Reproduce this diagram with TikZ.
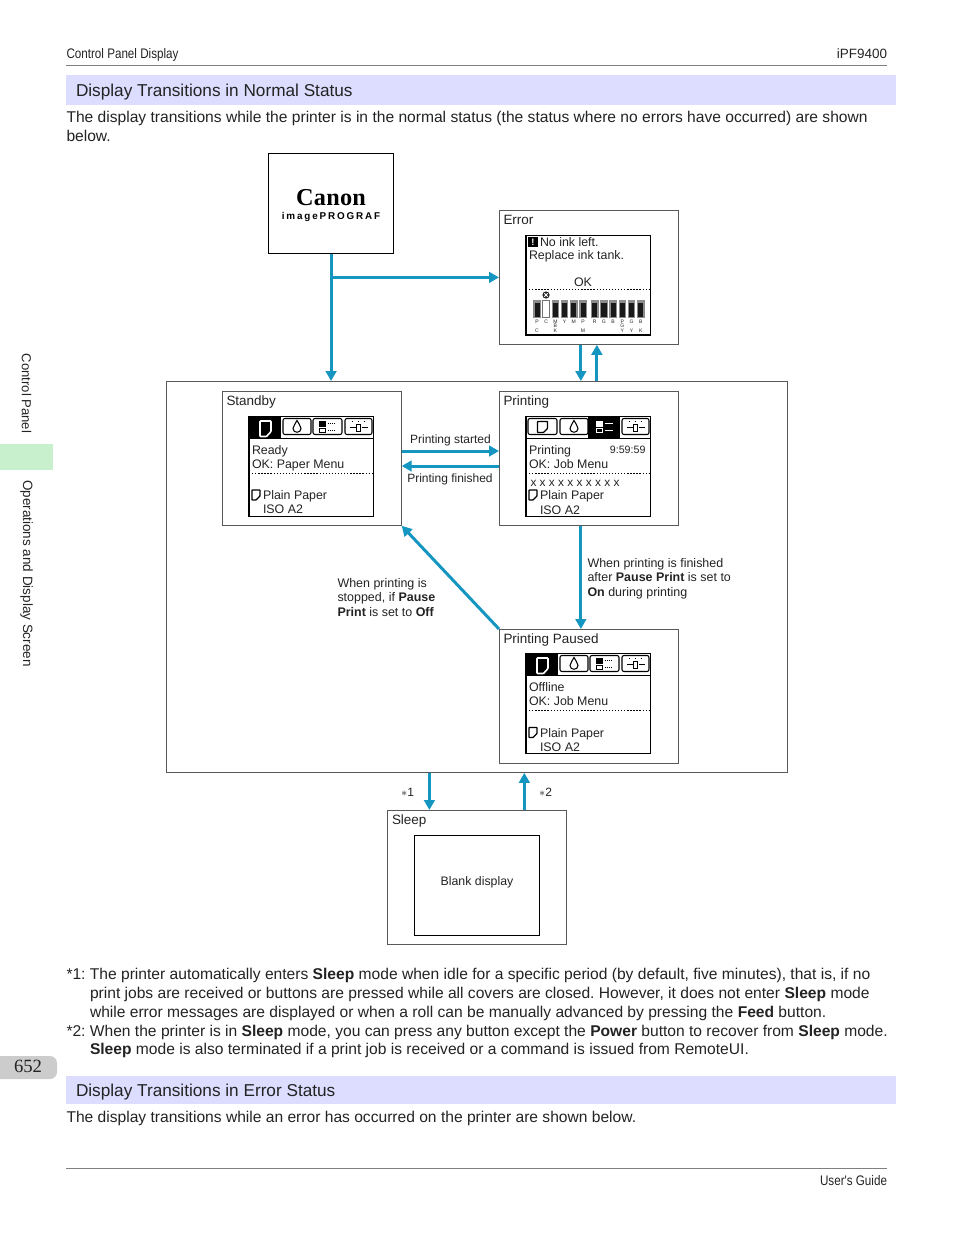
\documentclass[tikz,border=0pt]{standalone}
\usepackage{fontspec}
\setmainfont{Liberation Sans}
\newfontfamily\narrowfont[FakeStretch=0.84]{Liberation Sans}
\newfontfamily\numfont{Liberation Serif}
\usetikzlibrary{arrows.meta}
\frenchspacing

\definecolor{flowblue}{RGB}{20,150,192}
\definecolor{bandblue}{RGB}{221,221,255}
\definecolor{tabgreen}{RGB}{200,240,205}
\definecolor{inkgrey}{RGB}{35,35,35}

\tikzset{every picture/.style={line width=0.75pt},
  pagetxt/.style={anchor=base west,inner sep=0pt,text=inkgrey,font=\fontsize{11.7}{14}\selectfont},
  headtxt/.style={anchor=base west,inner sep=0pt,text=inkgrey,font=\fontsize{12.9}{16}\selectfont},
  runtxt/.style={inner sep=0pt,text=inkgrey,font=\narrowfont\fontsize{10.4}{12}\selectfont},
  sidetxt/.style={inner sep=0pt,rotate=-90,text=inkgrey,font=\fontsize{9.8}{12}\selectfont},
  paneltxt/.style={anchor=base west,inner sep=0pt,text=inkgrey,font=\fontsize{10.1}{12}\selectfont},
  lcdtxt/.style={anchor=base west,inner sep=0pt,text=inkgrey,font=\fontsize{9.3}{11}\selectfont},
  steptxt/.style={inner sep=0pt,text=inkgrey,align=left,font=\fontsize{9}{10.7}\selectfont},
  blocktxt/.style={inner sep=0pt,text=inkgrey,align=left,anchor=north west,font=\fontsize{9.35}{10.7}\selectfont},
  panel/.style={draw=black!65,line width=0.7pt,anchor=north west,inner sep=0pt,minimum width=134.1pt,minimum height=100.4pt},
  flow/.style={draw=flowblue,line width=2.25pt,-{Triangle[length=7.5pt,width=8pt]}},
  rule/.style={draw=black!50,line width=0.5pt},
  lcddots/.style={draw=black,line width=0.8pt,dash pattern=on 1pt off 1.3pt},
}

% screen frame, tabs and dotted rule
\newcommand{\lcdscreen}[4]{%
\begin{scope}[shift={(#1,#2)}]
  \draw [black,line width=1pt] (0,0) rectangle (124.5,100);
  \draw [black,line width=1pt] (0,22) -- (124.5,22);
  \draw [lcddots] (0,57) -- (124.5,57);
  \foreach \n/\xa/\xb in {1/2/31,2/34/62,3/64/93,4/96/123}{
    \ifnum\n=#3
      \def\tabcol{white}
      \fill [black] (\xa-2,0) rectangle (\xb+1,22);
    \else
      \def\tabcol{black}
      \draw [black,line width=0.8pt,rounded corners=1.5pt] (\xa,2) rectangle (\xb,18);
    \fi
    \pgfmathsetmacro{\xm}{(\xa+\xb)/2}
    \ifcase\n\or
      \ifnum\n=#3
        \draw [\tabcol,line width=1.2pt,rounded corners=0.5pt] (\xm-5.5,4.5) -- (\xm+5.5,4.5) -- (\xm+5.5,15) -- (\xm+1,20) -- (\xm-5.5,20) -- cycle;
      \else
        \draw [\tabcol,line width=1pt,rounded corners=0.5pt] (\xm-5,5) -- (\xm+5,5) -- (\xm+5,12) -- (\xm+1,16) -- (\xm-5,16) -- cycle;
      \fi
    \or
      \draw [\tabcol,line width=0.8pt] (\xm,4) .. controls (\xm+1,7) and (\xm+4,9) .. (\xm+4,12) .. controls (\xm+4,17) and (\xm-4,17) .. (\xm-4,12) .. controls (\xm-4,9) and (\xm-1,7) .. (\xm,4) -- cycle;
    \or
      \fill [\tabcol] (\xm-9,4) rectangle (\xm-2,10);
      \draw [\tabcol,line width=0.7pt] (\xm-8.5,12) rectangle (\xm-2.5,16);
      \ifnum\n=#3
        \draw [\tabcol,line width=1.3pt] (\xm,7) -- (\xm+8,7) (\xm,14) -- (\xm+8,14);
      \else
        \draw [\tabcol,line width=0.6pt,densely dotted] (\xm,7) -- (\xm+8,7) (\xm,14) -- (\xm+8,14);
      \fi
    \or
      \draw [\tabcol,line width=0.6pt] (\xm-9,11) -- (\xm-3,11) (\xm+3,11) -- (\xm+9,11);
      \draw [\tabcol,line width=0.7pt] (\xm-2.5,8) rectangle (\xm+1.5,15);
      \draw [\tabcol,line width=0.7pt,dash pattern=on 1pt off 3.5pt] (\xm-7,5) -- (\xm+8,5);
    \fi
  }
  #4
\end{scope}}

% small sheet in front of the paper name
\newcommand{\sheetglyph}[2]{%
\draw [black,line width=1pt,rounded corners=0.4pt] (#1,#2) -- (#1+8,#2) -- (#1+8,#2+6) -- (#1+4,#2+10) -- (#1,#2+10) -- cycle;}

\begin{document}
\begin{tikzpicture}[x=0.75pt,y=0.75pt,yscale=-1,xscale=1]
\useasboundingbox (0,0) rectangle (954,1235);

% Page furniture
\node (headleft) [runtxt,anchor=base west] at (66,58) {Control Panel Display};
\node (headright) [inner sep=0pt,text=inkgrey,font=\fontsize{10.1}{12}\selectfont,anchor=base east] at (887.5,58) {iPF9400};
\draw [rule] (66,65.5) -- (887,65.5);
\fill [bandblue] (66,75) rectangle (895.5,105);
\fill [bandblue] (66,1076) rectangle (895.5,1104);
\fill [tabgreen] (0,444) rectangle (53,470);
\fill [black!20] (0,1056) -- (50,1056) arc[start angle=-90,end angle=0,radius=7] -- (57,1072) arc[start angle=0,end angle=90,radius=7] -- (0,1079) -- cycle;
\node (sidetop) [sidetxt] at (26.5,393.5) {Control Panel};
\node (sidelow) [sidetxt,font=\fontsize{10.1}{12}\selectfont] at (26.5,573.5) {Operations and Display Screen};
\node (pagenum) [inner sep=0pt,text=inkgrey,font=\numfont\fontsize{14}{16}\selectfont] at (28,1066) {652};
\draw [rule] (66,1168.5) -- (887,1168.5);
\node (footright) [runtxt,anchor=base east] at (887.5,1185) {User's Guide};

% Text Node
\node (headnormal) [headtxt] at (75.5,96) {Display Transitions in Normal Status};
\node (introa) [pagetxt] at (66,122) {The display transitions while the printer is in the normal status (the status where no errors have occurred) are shown};
\node (introb) [pagetxt] at (66,141) {below.};
\node (notea) [pagetxt] at (66,979) {*1: The printer automatically enters \textbf{Sleep} mode when idle for a specific period (by default, five minutes), that is, if no};
\node (noteb) [pagetxt] at (89.5,998) {print jobs are received or buttons are pressed while all covers are closed. However, it does not enter \textbf{Sleep} mode};
\node (notec) [pagetxt] at (89.5,1017) {while error messages are displayed or when a roll can be manually advanced by pressing the \textbf{Feed} button.};
\node (noted) [pagetxt] at (66,1036) {*2: When the printer is in \textbf{Sleep} mode, you can press any button except the \textbf{Power} button to recover from \textbf{Sleep} mode.};
\node (notee) [pagetxt] at (89.5,1054) {\textbf{Sleep} mode is also terminated if a print job is received or a command is issued from RemoteUI.};
\node (headerror) [headtxt] at (75.5,1096) {Display Transitions in Error Status};
\node (introerr) [pagetxt] at (66,1122) {The display transitions while an error has occurred on the printer are shown below.};

% Boxes
\node (mainframe) [panel,minimum width=465.7pt,minimum height=293.2pt] at (166,381) {};
\node (canon) [panel,draw=black,line width=1pt,minimum width=93.6pt,minimum height=75pt] at (268,153) {};
\node (error) [panel] at (499,210) {};
\node (standby) [panel] at (222,391) {};
\node (printing) [panel] at (499,391) {};
\node (paused) [panel] at (499,629) {};
\node (sleep) [panel] at (387,810) {};
\node (blank) [draw=black,line width=1pt,inner sep=0pt,minimum width=93.5pt,minimum height=75pt] at (477,885.5) {};
\node (blanktxt) [inner sep=0pt,text=inkgrey,font=\fontsize{9.25}{11}\selectfont] at (477,882.5) {Blank display};

% Logo
\node (canonword) [inner sep=0pt,font=\numfont\bfseries\fontsize{18.2}{20}\selectfont\addfontfeature{LetterSpace=1}] at (331,197.5) {Canon};
\node (canonprog) [inner sep=0pt,font=\bfseries\fontsize{7.4}{9}\selectfont\addfontfeature{LetterSpace=19}] at (331,216.5) {imagePROGRAF};

% Panel titles
\node (errortitle) [paneltxt] at (503,224) {Error};
\node (standbytitle) [paneltxt] at (226,405.5) {Standby};
\node (printingtitle) [paneltxt] at (503,405.5) {Printing};
\node (pausedtitle) [paneltxt] at (503,643) {Printing Paused};
\node (sleeptitle) [paneltxt] at (391.5,824) {Sleep};

% Error screen
\draw [black,line width=1pt] (526,235.5) rectangle (650.5,335);
\draw [lcddots] (526,289.5) -- (650.5,289.5);
\node (warnmark) [fill=black,text=white,inner sep=0pt,minimum size=7.2pt,font=\bfseries\fontsize{7}{8}\selectfont] at (533,242) {!};
\node (errlinea) [lcdtxt] at (539.5,246) {No ink left.};
\node (errlineb) [lcdtxt] at (528.5,259.5) {Replace ink tank.};
\node (errok) [lcdtxt] at (573.5,286) {OK};
\fill [black!85] (546,295) circle (3.6);
\draw [white,line width=0.6pt] (544.3,293.3) -- (547.7,296.7) (544.3,296.7) -- (547.7,293.3);
\foreach \n/\xa/\ta/\tb/\tc in {1/533.3/P//C,2/542.5/C//,3/551.7/M/B/K,4/560.9/Y//,5/570.1/M//,6/579.3/P//M,7/591/R//,8/600.2/G//,9/609.4/B//,10/618.6/P/G/Y,11/627.8/G//Y,12/637/B//K}{
  \ifnum\n=2
    \draw [black!55,line width=0.8pt] (\xa+0.2,300.5) rectangle (\xa+7.3,317.5);
  \else
    \fill [black!45] (\xa,300) rectangle (\xa+7.5,318);
    \fill [black!90] (\xa+1.2,303) rectangle (\xa+6.3,317);
  \fi
  \node (inka\n) [inner sep=0pt,text=inkgrey,font=\fontsize{3.8}{4}\selectfont] at (\xa+3.7,322) {\ta};
  \node (inkb\n) [inner sep=0pt,text=inkgrey,font=\fontsize{3.8}{4}\selectfont] at (\xa+3.7,326) {\tb};
  \node (inkc\n) [inner sep=0pt,text=inkgrey,font=\fontsize{3.8}{4}\selectfont] at (\xa+3.7,330.5) {\tc};
}

% Standby screen
\lcdscreen{249}{416.5}{1}{
  \node (standbya) [lcdtxt] at (2.5,37.5) {Ready};
  \node (standbyb) [lcdtxt] at (2.5,51.5) {OK: Paper Menu};
  \sheetglyph{3}{73.5}
  \node (standbyc) [lcdtxt] at (13.5,83) {Plain Paper};
  \node (standbyd) [lcdtxt] at (13.5,97) {ISO A2};
}

% Printing screen
\lcdscreen{526}{416.5}{3}{
  \node (printinga) [lcdtxt] at (2.5,37.5) {Printing};
  \node (printingt) [lcdtxt,font=\fontsize{8}{10}\selectfont,anchor=base east] at (120,37) {9:59:59};
  \node (printingb) [lcdtxt] at (2.5,51.5) {OK: Job Menu};
  \node (printingx) [lcdtxt,font=\fontsize{8.9}{11}\selectfont] at (4,69.5) {x x x x x x x x x x};
  \sheetglyph{3}{73.5}
  \node (printingc) [lcdtxt] at (13.5,83) {Plain Paper};
  \node (printingd) [lcdtxt] at (13.5,97.5) {ISO A2};
}

% Paused screen
\lcdscreen{526}{653.5}{1}{
  \node (pauseda) [lcdtxt] at (2.5,37.5) {Offline};
  \node (pausedb) [lcdtxt] at (2.5,51.5) {OK: Job Menu};
  \sheetglyph{3}{74}
  \node (pausedc) [lcdtxt] at (13.5,83.5) {Plain Paper};
  \node (pausedd) [lcdtxt] at (13.5,97.5) {ISO A2};
}

% Straight Lines
\draw [flow] (canon.south) -- (canon.south |- mainframe.north);
\coordinate (canonbranch) at (canon.south |- error.west);
\draw [flow] (canonbranch) -- (error.west);
\draw [flow] ([xshift=-6pt]error.south) -- ([xshift=-6pt]error.south |- mainframe.north);
\draw [flow] ([xshift=6pt]error.south |- mainframe.north) -- ([xshift=6pt]error.south);
\coordinate (startedend) at (standby.east |- 0,451);
\coordinate (finishedend) at (printing.west |- 0,466);
\draw [flow] (startedend) -- (startedend -| printing.west);
\draw [flow] (finishedend) -- (finishedend -| standby.east);
\draw [flow] ([xshift=-6pt]printing.south) -- ([xshift=-6pt]paused.north);
\draw [flow] (paused.north west) -- (standby.south east);
\draw [flow] ([xshift=-35.6pt]sleep.north |- mainframe.south) -- ([xshift=-35.6pt]sleep.north);
\draw [flow] ([xshift=35.6pt]sleep.north) -- ([xshift=35.6pt]sleep.north |- mainframe.south);

% Text Node
\node (startedtxt) [steptxt] at (450.5,440) {Printing started};
\node (finishedtxt) [steptxt] at (450,479) {Printing finished};
\node (tobreak) [blocktxt] at (587,558) {When printing is finished\\after \textbf{Pause Print} is set to\\\textbf{On} during printing};
\node (tostandby) [blocktxt] at (337,578) {When printing is\\stopped, if \textbf{Pause}\\\textbf{Print} is set to \textbf{Off}};
\node (starone) [steptxt] at (407.5,792) {$*$1};
\node (startwo) [steptxt] at (545.5,792) {$*$2};

\end{tikzpicture}
\end{document}
